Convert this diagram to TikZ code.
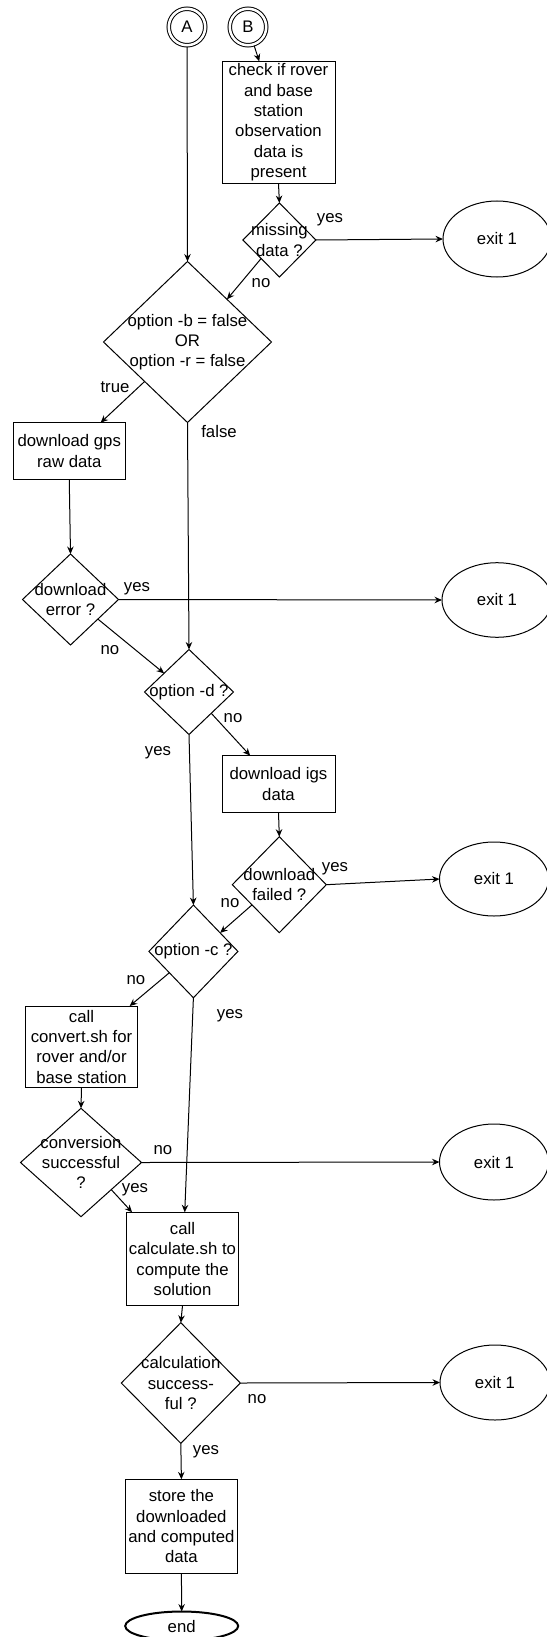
\documentclass[tikz,border=0pt]{standalone}
\usepackage{fontspec}
\setmainfont{Liberation Sans}
\usetikzlibrary{shapes.geometric,arrows.meta,calc}
\begin{document}
\begin{tikzpicture}[x=1pt,y=-1pt,
  font=\fontsize{16.75}{20.3}\selectfont,
  line width=1pt,
  box/.style 2 args={draw, rectangle, minimum width=#1pt, minimum height=#2pt, inner sep=0pt, outer sep=0pt, align=center},
  dia/.style 2 args={draw, diamond, minimum width=#1pt, minimum height=#2pt, inner sep=0pt, outer sep=0pt},
  dtext/.style={align=center, inner sep=0pt},
  exitnode/.style 2 args={draw, ellipse, minimum width=#1pt, minimum height=#2pt, inner sep=0pt, outer sep=0pt},
  conn/.style={-{Stealth[length=7.5pt,width=6.5pt,inset=2.5pt]}},
  edgelbl/.style={inner sep=0pt},
  conncirc/.style={draw, circle, double, double distance=2.5pt, minimum size=36.5pt, inner sep=0pt, outer sep=1.7pt},
]
\useasboundingbox (0,0) rectangle (546,1637);

% connectors A and B
\node[conncirc] (A) at (187,27) {A};
\node[conncirc] (B) at (248,27) {B};

% boxes
\node[box={113}{122}] (check) at (278.5,122.4) {check if rover\\and base\\station\\observation\\data is\\present};
\node[box={112}{56.6}] (gps) at (69.25,451) {download gps\\raw data};
\node[box={113}{56.6}] (igs) at (278.5,784) {download igs\\data};
\node[box={112}{81.3}] (convert) at (81.5,1046.7) {call\\convert.sh for\\rover and/or\\base station};
\node[box={112}{93.4}] (calc) at (182.5,1259) {call\\calculate.sh to\\compute the\\solution};
\node[box={112}{94}] (store) at (181.4,1526.3) {store the\\downloaded\\and computed\\data};

% diamonds
\node[dia={73}{74}, label={[dtext]center:{missing\\data ?}}] (miss) at (279.4,240) {};
\node[dia={168}{161}, label={[dtext]center:{option -b = false\\OR\\option -r = false}}] (big) at (187.5,342) {};
\node[dia={96}{91}, label={[dtext]center:{download\\error ?}}] (derr) at (70.5,599.5) {};
\node[dia={89}{85}, label={[dtext]center:{option -d ?}}] (optd) at (189,692) {};
\node[dia={94}{96}, label={[dtext]center:{download\\failed ?}}] (dfail) at (279.3,884.7) {};
\node[dia={89}{92.7}, label={[dtext]center:{option -c ?}}] (optc) at (193.4,951.4) {};
\node[dia={121}{108.4}, label={[dtext]center:{conversion\\successful\\?}}] (conv) at (81,1162.5) {};
\node[dia={119}{120.6}, label={[dtext]center:{calculation\\success-\\ful ?}}] (calcd) at (180.8,1383) {};

% exits
\node[exitnode={108}{76}] (e1) at (497,239) {exit 1};
\node[exitnode={110}{74.6}] (e2) at (497,600) {exit 1};
\node[exitnode={109}{74}] (e3) at (494,879) {exit 1};
\node[exitnode={109}{76}] (e4) at (494,1162) {exit 1};
\node[exitnode={110}{75}] (e5) at (495,1382.5) {exit 1};
\node[exitnode={113}{29}, line width=2pt] (endn) at (181.7,1626) {end};

% connectors
\coordinate (bIn) at ($(check.north west)!0.33!(check.north east)$);
\draw[conn] (A.south) -- (big.north);
\draw[conn] (B) -- (bIn);
\draw[conn] (check.south) -- (miss.north);
\draw[conn] (miss.east) -- (e1.west);
\draw[conn] ($(miss.west)!0.5!(miss.south)$) -- ($(big.north)!0.47!(big.east)$);
\draw[conn] ($(big.west)!0.49!(big.south)$) -- ($(gps.north west)!0.78!(gps.north east)$);
\draw[conn] (big.south) -- (optd.north);
\draw[conn] (gps.south) -- (derr.north);
\draw[conn] (derr.east) -- (e2.west);
\draw[conn] ($(derr.east)!0.43!(derr.south)$) -- ($(optd.north)!0.56!(optd.west)$);
\draw[conn] ($(optd.east)!0.5!(optd.south)$) -- ($(igs.north west)!0.25!(igs.north east)$);
\draw[conn] (optd.south) -- (optc.north);
\draw[conn] (igs.south) -- (dfail.north);
\draw[conn] (dfail.east) -- (e3.west);
\draw[conn] ($(dfail.west)!0.42!(dfail.south)$) -- ($(optc.north)!0.6!(optc.east)$);
\draw[conn] ($(optc.west)!0.46!(optc.south)$) -- ($(convert.north west)!0.93!(convert.north east)$);
\draw[conn] (optc.south) -- ($(calc.north west)!0.52!(calc.north east)$);
\draw[conn] (convert.south) -- (conv.north);
\draw[conn] (conv.east) -- (e4.west);
\draw[conn] ($(conv.east)!0.5!(conv.south)$) -- ($(calc.north west)!0.05!(calc.north east)$);
\draw[conn] (calc.south) -- (calcd.north);
\draw[conn] (calcd.east) -- (e5.west);
\draw[conn] (calcd.south) -- (store.north);
\draw[conn] (store.south) -- (endn.north);

% edge labels
\node[edgelbl] (l1) at (330,220) {yes};
\node[edgelbl] (l2) at (261,283) {no};
\node[edgelbl] (l3) at (115,387) {true};
\node[edgelbl] (l4) at (219,432) {false};
\node[edgelbl] (l5) at (137,589) {yes};
\node[edgelbl] (l6) at (110,650) {no};
\node[edgelbl] (l7) at (233,718) {no};
\node[edgelbl] (l8) at (158,753) {yes};
\node[edgelbl] (l9) at (335,869) {yes};
\node[edgelbl] (l10) at (230,903) {no};
\node[edgelbl] (l11) at (136,980) {no};
\node[edgelbl] (l12) at (230,1016) {yes};
\node[edgelbl] (l13) at (163,1150) {no};
\node[edgelbl] (l14) at (135,1190) {yes};
\node[edgelbl] (l15) at (257,1399) {no};
\node[edgelbl] (l16) at (206,1452) {yes};
\end{tikzpicture}
\end{document}
